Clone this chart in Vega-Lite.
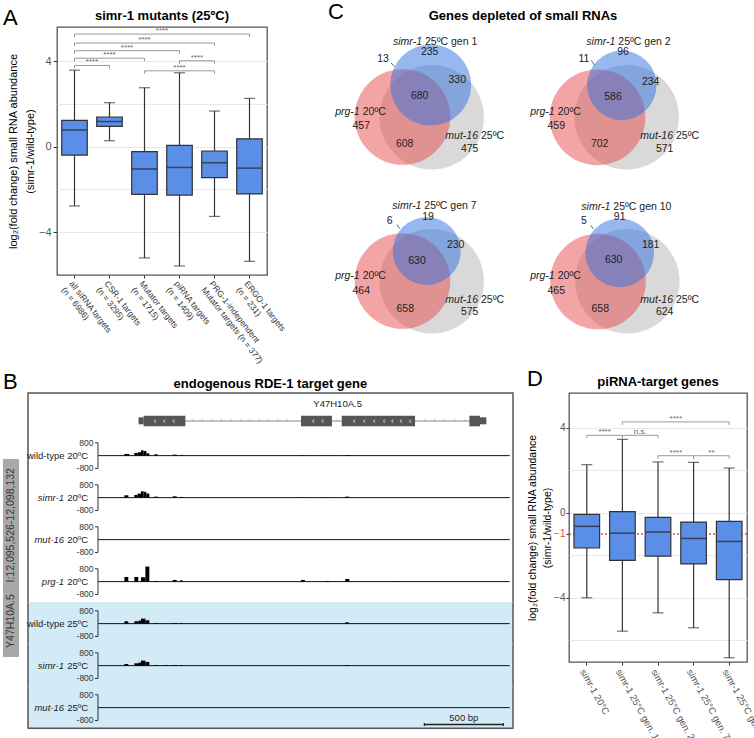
{
"$schema": "https://vega.github.io/schema/vega-lite/v6.json",
"padding": {"left": 3, "top": 1, "right": 0, "bottom": 0},
"background": "white",
"config": {
  "font": "Liberation Sans",
  "view": {"stroke": "#555", "strokeWidth": 1.3},
  "title": {"color": "#000"}
},
"spacing": 3,
"vconcat": [
{"spacing": 40, "hconcat": [
 {"spacing": -12, "hconcat": [
  {"title": {"text": "A", "anchor": "start", "fontSize": 22, "fontWeight": "normal", "offset": -3},
   "width": 1, "height": 1, "view": {"stroke": null},
   "data": {"values": []}, "mark": "point"},
  {"title": {"text": "simr-1 mutants (25ºC)", "fontSize": 13, "fontWeight": "bold", "offset": 4, "anchor": "middle"},
   "width": 210, "height": 248,
   "resolve": {"scale": {"x": "independent"}},
   "layer": [
    {"data": {"values": [
      {"cat": "all siRNA targets|(n = 6986)", "lo": -2.77, "q1": -0.39, "med": 0.78, "q3": 1.23, "hi": 3.58},
      {"cat": "CSR-1 targets|(n = 3295)", "lo": 0.28, "q1": 0.95, "med": 1.18, "q3": 1.39, "hi": 2.06},
      {"cat": "Mutator targets|(n = 1715)", "lo": -5.2, "q1": -2.23, "med": -1.04, "q3": -0.23, "hi": 2.76},
      {"cat": "piRNA targets|(n = 1409)", "lo": -5.58, "q1": -2.26, "med": -0.97, "q3": 0.06, "hi": 3.46},
      {"cat": "PRG-1-independent|Mutator targets (n = 377)", "lo": -3.26, "q1": -1.45, "med": -0.75, "q3": -0.2, "hi": 1.67},
      {"cat": "ERGO-1 targets|(n = 231)", "lo": -5.36, "q1": -2.21, "med": -1.0, "q3": 0.37, "hi": 2.26}
     ]},
     "encoding": {"x": {"field": "cat", "type": "nominal",
        "scale": {"domain": ["all siRNA targets|(n = 6986)", "CSR-1 targets|(n = 3295)", "Mutator targets|(n = 1715)", "piRNA targets|(n = 1409)", "PRG-1-independent|Mutator targets (n = 377)", "ERGO-1 targets|(n = 231)"], "padding": 0},
        "axis": {"title": null, "labelAngle": 52, "labelAlign": "left", "labelBaseline": "top", "labelExpr": "split(datum.label, '|')", "labelFontSize": 8.5, "labelColor": "#333", "labelLineHeight": 10, "tickSize": 3, "tickColor": "#333", "domain": false, "labelPadding": 1, "labelLimit": 200, "grid": false}}},
     "layer": [
      {"mark": {"type": "rule", "color": "#333", "strokeWidth": 1.2},
       "encoding": {"y": {"field": "lo", "type": "quantitative", "scale": {"domain": [-6, 5.6], "nice": false, "zero": false},
          "axis": {"title": ["log₂(fold change) small RNA abundance", "(simr-1/wild-type)"], "values": [4, 2, 0, -2, -4], "labelExpr": "datum.value % 4 == 0 ? datum.label : ''", "tickOpacity": {"condition": {"test": "datum.value % 4 != 0", "value": 0}, "value": 1}, "grid": true, "gridColor": "#e8e8e8", "domain": false, "tickColor": "#333", "tickSize": 4, "labelColor": "#555", "labelFontSize": 11, "titleFontSize": 11, "titleFontWeight": "normal", "titleColor": "#000", "titleLineHeight": 17, "titlePadding": 3, "labelPadding": 2}},
        "y2": {"field": "hi"}}},
      {"mark": {"type": "tick", "color": "#333", "thickness": 1.2, "size": 11}, "encoding": {"y": {"field": "hi", "type": "quantitative"}}},
      {"mark": {"type": "tick", "color": "#333", "thickness": 1.2, "size": 11}, "encoding": {"y": {"field": "lo", "type": "quantitative"}}},
      {"mark": {"type": "bar", "fill": "#5b8ee6", "stroke": "#333", "strokeWidth": 1.2, "width": {"band": 0.73}}, "encoding": {"y": {"field": "q1", "type": "quantitative"}, "y2": {"field": "q3"}}},
      {"mark": {"type": "tick", "color": "#222", "thickness": 1.5, "size": 25}, "encoding": {"y": {"field": "med", "type": "quantitative"}}}
     ]},
    {"data": {"values": [
      {"from": 1, "to": 2, "lev": 3.8, "lab": "****"},
      {"from": 1, "to": 3, "lev": 4.14, "lab": "****"},
      {"from": 1, "to": 4, "lev": 4.49, "lab": "****"},
      {"from": 1, "to": 5, "lev": 4.85, "lab": "****"},
      {"from": 1, "to": 6, "lev": 5.27, "lab": "****"},
      {"from": 3, "to": 5, "lev": 3.55, "lab": "****"},
      {"from": 4, "to": 5, "lev": 4.02, "lab": "****"}
     ]},
     "transform": [{"calculate": "(datum.from + datum.to) / 2", "as": "mid"}],
     "layer": [
      {"mark": {"type": "rule", "color": "#999", "strokeWidth": 1}, "encoding": {"x": {"field": "from", "type": "quantitative", "scale": {"domain": [0.5, 6.5], "nice": false, "zero": false}, "axis": null}, "x2": {"field": "to"}, "y": {"field": "lev", "type": "quantitative"}}},
      {"mark": {"type": "rule", "color": "#999", "strokeWidth": 1, "y2Offset": 3}, "encoding": {"x": {"field": "from", "type": "quantitative"}, "y": {"field": "lev", "type": "quantitative"}, "y2": {"field": "lev"}}},
      {"mark": {"type": "rule", "color": "#999", "strokeWidth": 1, "y2Offset": 3}, "encoding": {"x": {"field": "to", "type": "quantitative"}, "y": {"field": "lev", "type": "quantitative"}, "y2": {"field": "lev"}}},
      {"mark": {"type": "text", "color": "#666", "fontSize": 8, "baseline": "bottom", "dy": 1}, "encoding": {"x": {"field": "mid", "type": "quantitative"}, "y": {"field": "lev", "type": "quantitative"}, "text": {"field": "lab"}}}
     ]}
   ]
  }
 ]},
 {"title": {"text": "C", "anchor": "start", "frame": "bounds", "fontSize": 22, "fontWeight": "normal", "offset": -14},
  "vconcat": [{
   "title": {"text": "Genes depleted of small RNAs", "fontSize": 13, "fontWeight": "bold", "offset": 4, "anchor": "middle"},
   "data": {"values": [
    {"gen": "gen 1", "kind": "circle", "set": "mut", "x": 103.7, "y": 90.3, "total": 2093},
    {"gen": "gen 1", "kind": "circle", "set": "prg", "x": 74.5, "y": 90, "total": 1758},
    {"gen": "gen 1", "kind": "circle", "set": "simr", "x": 102.7, "y": 58, "total": 1258},
    {"gen": "gen 1", "kind": "num", "x": 101.7, "y": 25, "t": "235"},
    {"gen": "gen 1", "kind": "num", "x": 55, "y": 31.7, "t": "13"},
    {"gen": "gen 1", "kind": "num", "x": 129.3, "y": 53.3, "t": "330"},
    {"gen": "gen 1", "kind": "num", "x": 91.7, "y": 69.3, "t": "680"},
    {"gen": "gen 1", "kind": "num", "x": 33.3, "y": 99.3, "t": "457"},
    {"gen": "gen 1", "kind": "num", "x": 76.7, "y": 116.7, "t": "608"},
    {"gen": "gen 1", "kind": "num", "x": 141.7, "y": 121.7, "t": "475"},
    {"gen": "gen 1", "kind": "lab", "x": 94, "y": 15, "it": "simr-1", "rest": "25ºC gen 1"},
    {"gen": "gen 1", "kind": "lab", "x": 31.7, "y": 85, "it": "prg-1", "rest": "20ºC"},
    {"gen": "gen 1", "kind": "lab", "x": 150, "y": 109.3, "it": "mut-16", "rest": "25ºC"},
    {"gen": "gen 1", "kind": "lead", "x": 63, "y": 36, "x2": 66.7, "y2": 39.3},
    {"gen": "gen 2", "kind": "circle", "set": "mut", "x": 103.7, "y": 90.3, "total": 2093},
    {"gen": "gen 2", "kind": "circle", "set": "prg", "x": 74.5, "y": 90.3, "total": 1758},
    {"gen": "gen 2", "kind": "circle", "set": "simr", "x": 98.8, "y": 58.3, "total": 927},
    {"gen": "gen 2", "kind": "num", "x": 100, "y": 25, "t": "96"},
    {"gen": "gen 2", "kind": "num", "x": 61, "y": 31.7, "t": "11"},
    {"gen": "gen 2", "kind": "num", "x": 127.7, "y": 55, "t": "234"},
    {"gen": "gen 2", "kind": "num", "x": 90, "y": 70, "t": "586"},
    {"gen": "gen 2", "kind": "num", "x": 33.3, "y": 99.3, "t": "459"},
    {"gen": "gen 2", "kind": "num", "x": 76.7, "y": 116.7, "t": "702"},
    {"gen": "gen 2", "kind": "num", "x": 141.7, "y": 121.7, "t": "571"},
    {"gen": "gen 2", "kind": "lab", "x": 92.3, "y": 15, "it": "simr-1", "rest": "25ºC gen 2"},
    {"gen": "gen 2", "kind": "lab", "x": 31.7, "y": 85, "it": "prg-1", "rest": "20ºC"},
    {"gen": "gen 2", "kind": "lab", "x": 150, "y": 109.3, "it": "mut-16", "rest": "25ºC"},
    {"gen": "gen 2", "kind": "lead", "x": 68.3, "y": 33.3, "x2": 71.7, "y2": 38.3},
    {"gen": "gen 7", "kind": "circle", "set": "mut", "x": 103.7, "y": 90.3, "total": 2093},
    {"gen": "gen 7", "kind": "circle", "set": "prg", "x": 74.5, "y": 90, "total": 1758},
    {"gen": "gen 7", "kind": "circle", "set": "simr", "x": 98.8, "y": 60, "total": 885},
    {"gen": "gen 7", "kind": "num", "x": 100, "y": 26, "t": "19"},
    {"gen": "gen 7", "kind": "num", "x": 61.7, "y": 30.3, "t": "6"},
    {"gen": "gen 7", "kind": "num", "x": 127.7, "y": 54.3, "t": "230"},
    {"gen": "gen 7", "kind": "num", "x": 89, "y": 70, "t": "630"},
    {"gen": "gen 7", "kind": "num", "x": 33.3, "y": 100.3, "t": "464"},
    {"gen": "gen 7", "kind": "num", "x": 77.3, "y": 117.7, "t": "658"},
    {"gen": "gen 7", "kind": "num", "x": 141.7, "y": 121, "t": "575"},
    {"gen": "gen 7", "kind": "lab", "x": 93.3, "y": 15, "it": "simr-1", "rest": "25ºC gen 7"},
    {"gen": "gen 7", "kind": "lab", "x": 31.7, "y": 85, "it": "prg-1", "rest": "20ºC"},
    {"gen": "gen 7", "kind": "lab", "x": 150, "y": 109.3, "it": "mut-16", "rest": "25ºC"},
    {"gen": "gen 7", "kind": "lead", "x": 69, "y": 33.7, "x2": 71.7, "y2": 37.7},
    {"gen": "gen 10", "kind": "circle", "set": "mut", "x": 104.3, "y": 90.3, "total": 2093},
    {"gen": "gen 10", "kind": "circle", "set": "prg", "x": 75, "y": 90.5, "total": 1758},
    {"gen": "gen 10", "kind": "circle", "set": "simr", "x": 96.7, "y": 61.8, "total": 907},
    {"gen": "gen 10", "kind": "num", "x": 96.7, "y": 26, "t": "91"},
    {"gen": "gen 10", "kind": "num", "x": 61, "y": 30.3, "t": "5"},
    {"gen": "gen 10", "kind": "num", "x": 127.7, "y": 54.3, "t": "181"},
    {"gen": "gen 10", "kind": "num", "x": 90.7, "y": 69.3, "t": "630"},
    {"gen": "gen 10", "kind": "num", "x": 33.3, "y": 100.3, "t": "465"},
    {"gen": "gen 10", "kind": "num", "x": 77.3, "y": 117.7, "t": "658"},
    {"gen": "gen 10", "kind": "num", "x": 141.7, "y": 121, "t": "624"},
    {"gen": "gen 10", "kind": "lab", "x": 87.3, "y": 16, "it": "simr-1", "rest": "25ºC gen 10"},
    {"gen": "gen 10", "kind": "lab", "x": 31.7, "y": 85, "it": "prg-1", "rest": "20ºC"},
    {"gen": "gen 10", "kind": "lab", "x": 150, "y": 109, "it": "mut-16", "rest": "25ºC"},
    {"gen": "gen 10", "kind": "lead", "x": 67.7, "y": 34.3, "x2": 70.3, "y2": 37.7}
   ]},
   "transform": [
    {"calculate": "datum.gen == 'gen 1' || datum.gen == 'gen 2' ? 'top' : 'bottom'", "as": "prow"},
    {"calculate": "datum.gen == 'gen 1' || datum.gen == 'gen 7' ? 'left' : 'right'", "as": "pcol"}
   ],
   "facet": {
    "row": {"field": "prow", "type": "nominal", "sort": ["top", "bottom"], "header": {"labels": false, "title": null}},
    "column": {"field": "pcol", "type": "nominal", "sort": ["left", "right"], "header": {"labels": false, "title": null}}
   },
   "spacing": 0,
   "bounds": "flush",
   "spec": {
    "width": 195, "height": 164,
    "view": {"stroke": null},
    "layer": [
     {"transform": [{"filter": "datum.kind == 'circle'"}],
      "mark": {"type": "point", "filled": true, "shape": "circle", "opacity": 0.5, "strokeWidth": 0},
      "encoding": {
       "x": {"field": "x", "type": "quantitative", "scale": {"domain": [0, 195], "nice": false, "zero": false}, "axis": null},
       "y": {"field": "y", "type": "quantitative", "scale": {"domain": [0, 164], "nice": false, "zero": false, "reverse": true}, "axis": null},
       "size": {"field": "total", "type": "quantitative", "scale": {"domain": [0, 2093], "range": [0, 10907]}, "legend": null},
       "color": {"field": "set", "type": "nominal", "scale": {"domain": ["mut", "prg", "simr"], "range": ["#b4b4b4", "#e84c4c", "#2f6fe0"]}, "legend": null}}},
     {"transform": [{"filter": "datum.kind == 'lead'"}],
      "mark": {"type": "rule", "color": "#333", "strokeWidth": 0.8},
      "encoding": {"x": {"field": "x", "type": "quantitative"}, "y": {"field": "y", "type": "quantitative"}, "x2": {"field": "x2"}, "y2": {"field": "y2"}}},
     {"transform": [{"filter": "datum.kind == 'num'"}],
      "mark": {"type": "text", "fontSize": 10.5, "color": "#222", "baseline": "middle"},
      "encoding": {"x": {"field": "x", "type": "quantitative"}, "y": {"field": "y", "type": "quantitative"}, "text": {"field": "t"}}},
     {"transform": [{"filter": "datum.kind == 'lab'"}],
      "mark": {"type": "text", "fontSize": 10.5, "color": "#222", "baseline": "middle", "align": "right", "fontStyle": "italic"},
      "encoding": {"x": {"field": "x", "type": "quantitative"}, "y": {"field": "y", "type": "quantitative"}, "text": {"field": "it"}}},
     {"transform": [{"filter": "datum.kind == 'lab'"}],
      "mark": {"type": "text", "fontSize": 10.5, "color": "#222", "baseline": "middle", "align": "left", "dx": 3},
      "encoding": {"x": {"field": "x", "type": "quantitative"}, "y": {"field": "y", "type": "quantitative"}, "text": {"field": "rest"}}}
    ]
   }
  }]
 }
]},
{"spacing": 12, "hconcat": [
 {"title": {"text": "B", "anchor": "start", "frame": "bounds", "fontSize": 22, "fontWeight": "normal", "offset": -16},
  "spacing": 8,
  "hconcat": [
   {"width": 16, "height": 330, "view": {"stroke": null},
    "data": {"values": [{"lab": "Y47H10A.5\u00a0\u00a0\u00a0\u00a0I:12,095,526-12,098,132"}]},
    "layer": [
     {"mark": {"type": "rect", "color": "#a9a9a9"},
      "encoding": {"x": {"datum": 0, "type": "quantitative", "scale": {"domain": [0, 1], "nice": false}, "axis": null}, "x2": {"datum": 1},
                   "y": {"datum": 66, "type": "quantitative", "scale": {"domain": [0, 330], "nice": false, "reverse": true}, "axis": null}, "y2": {"datum": 264}}},
     {"mark": {"type": "text", "angle": 270, "fontSize": 10.5, "color": "#333", "baseline": "middle"},
      "encoding": {"x": {"datum": 0.5, "type": "quantitative"}, "y": {"datum": 165, "type": "quantitative"}, "text": {"field": "lab"}}}
    ]},
   {"title": {"text": "endogenous RDE-1 target gene", "fontSize": 13, "fontWeight": "bold", "offset": 1, "anchor": "middle"},
    "data": {"values": [
     {"track": "gene", "kind": "cell"},
     {"track": "wt20", "kind": "cell", "bg": false, "nit": "", "nreg": "wild-type 20ºC"},
     {"track": "simr20", "kind": "cell", "bg": false, "nit": "simr-1", "nreg": "20ºC"},
     {"track": "mut20", "kind": "cell", "bg": false, "nit": "mut-16", "nreg": "20ºC"},
     {"track": "prg20", "kind": "cell", "bg": false, "nit": "prg-1", "nreg": "20ºC"},
     {"track": "wt25", "kind": "cell", "bg": true, "nit": "", "nreg": "wild-type 25ºC"},
     {"track": "simr25", "kind": "cell", "bg": true, "nit": "simr-1", "nreg": "25ºC"},
     {"track": "mut25", "kind": "cell", "bg": true, "nit": "mut-16", "nreg": "25ºC"},
     {"track": "gene", "kind": "gline", "start": 12095783, "end": 12097984},
     {"track": "gene", "kind": "utr", "start": 12095783, "end": 12095815},
     {"track": "gene", "kind": "utr", "start": 12097944, "end": 12097984},
     {"track": "gene", "kind": "exon", "start": 12095815, "end": 12096079},
     {"track": "gene", "kind": "exon", "start": 12096811, "end": 12097007},
     {"track": "gene", "kind": "exon", "start": 12097069, "end": 12097533},
     {"track": "gene", "kind": "exon", "start": 12097877, "end": 12097944},
     {"track": "gene", "kind": "chev", "pos": 12095887},
     {"track": "gene", "kind": "chev", "pos": 12095946},
     {"track": "gene", "kind": "chev", "pos": 12096005},
     {"track": "gene", "kind": "chev", "pos": 12096889},
     {"track": "gene", "kind": "chev", "pos": 12096948},
     {"track": "gene", "kind": "chev", "pos": 12097148},
     {"track": "gene", "kind": "chev", "pos": 12097212},
     {"track": "gene", "kind": "chev", "pos": 12097275},
     {"track": "gene", "kind": "chev", "pos": 12097338},
     {"track": "gene", "kind": "chev", "pos": 12097391},
     {"track": "gene", "kind": "chev", "pos": 12097444},
     {"track": "gene", "kind": "chev", "pos": 12097503},
     {"track": "gene", "kind": "ichev", "pos": 12096125},
     {"track": "gene", "kind": "ichev", "pos": 12096184},
     {"track": "gene", "kind": "ichev", "pos": 12096246},
     {"track": "gene", "kind": "ichev", "pos": 12096305},
     {"track": "gene", "kind": "ichev", "pos": 12096368},
     {"track": "gene", "kind": "ichev", "pos": 12096427},
     {"track": "gene", "kind": "ichev", "pos": 12096486},
     {"track": "gene", "kind": "ichev", "pos": 12096545},
     {"track": "gene", "kind": "ichev", "pos": 12096604},
     {"track": "gene", "kind": "ichev", "pos": 12096663},
     {"track": "gene", "kind": "ichev", "pos": 12096722},
     {"track": "gene", "kind": "ichev", "pos": 12097039},
     {"track": "gene", "kind": "ichev", "pos": 12097592},
     {"track": "gene", "kind": "ichev", "pos": 12097655},
     {"track": "gene", "kind": "ichev", "pos": 12097718},
     {"track": "gene", "kind": "ichev", "pos": 12097782},
     {"track": "gene", "kind": "ichev", "pos": 12097845},
     {"track": "gene", "kind": "glabel", "pos": 12097043, "t": "Y47H10A.5"},
     {"track": "mut25", "kind": "sbar", "start": 12097592, "end": 12098092, "t": "500 bp"},
     {"track": "wt20", "kind": "peak", "start": 12095693, "end": 12095724, "value": 104},
     {"track": "wt20", "kind": "peak", "start": 12095756, "end": 12095777, "value": 166},
     {"track": "wt20", "kind": "peak", "start": 12095777, "end": 12095798, "value": 208},
     {"track": "wt20", "kind": "peak", "start": 12095798, "end": 12095815, "value": 330},
     {"track": "wt20", "kind": "peak", "start": 12095815, "end": 12095832, "value": 290},
     {"track": "wt20", "kind": "peak", "start": 12095832, "end": 12095851, "value": 146},
     {"track": "wt20", "kind": "peak", "start": 12095883, "end": 12095904, "value": 83},
     {"track": "wt20", "kind": "peak", "start": 12095999, "end": 12096024, "value": 62},
     {"track": "wt20", "kind": "peak", "start": 12096045, "end": 12096066, "value": 42},
     {"track": "wt20", "kind": "peak", "start": 12096811, "end": 12096836, "value": 20},
     {"track": "wt20", "kind": "peak", "start": 12096969, "end": 12096990, "value": 20},
     {"track": "wt20", "kind": "peak", "start": 12097091, "end": 12097117, "value": 40},
     {"track": "simr20", "kind": "peak", "start": 12095693, "end": 12095718, "value": 146},
     {"track": "simr20", "kind": "peak", "start": 12095756, "end": 12095777, "value": 166},
     {"track": "simr20", "kind": "peak", "start": 12095777, "end": 12095798, "value": 250},
     {"track": "simr20", "kind": "peak", "start": 12095798, "end": 12095815, "value": 395},
     {"track": "simr20", "kind": "peak", "start": 12095815, "end": 12095832, "value": 360},
     {"track": "simr20", "kind": "peak", "start": 12095832, "end": 12095851, "value": 250},
     {"track": "simr20", "kind": "peak", "start": 12095883, "end": 12095904, "value": 62},
     {"track": "simr20", "kind": "peak", "start": 12095999, "end": 12096024, "value": 83},
     {"track": "simr20", "kind": "peak", "start": 12096045, "end": 12096066, "value": 42},
     {"track": "simr20", "kind": "peak", "start": 12096811, "end": 12096836, "value": 20},
     {"track": "simr20", "kind": "peak", "start": 12096969, "end": 12096990, "value": 20},
     {"track": "simr20", "kind": "peak", "start": 12097091, "end": 12097117, "value": 62},
     {"track": "prg20", "kind": "peak", "start": 12095693, "end": 12095718, "value": 291},
     {"track": "prg20", "kind": "peak", "start": 12095756, "end": 12095781, "value": 291},
     {"track": "prg20", "kind": "peak", "start": 12095798, "end": 12095826, "value": 270},
     {"track": "prg20", "kind": "peak", "start": 12095826, "end": 12095851, "value": 936},
     {"track": "prg20", "kind": "peak", "start": 12095883, "end": 12095904, "value": 42},
     {"track": "prg20", "kind": "peak", "start": 12095999, "end": 12096024, "value": 104},
     {"track": "prg20", "kind": "peak", "start": 12096045, "end": 12096062, "value": 83},
     {"track": "prg20", "kind": "peak", "start": 12096811, "end": 12096836, "value": 104},
     {"track": "prg20", "kind": "peak", "start": 12096969, "end": 12096990, "value": 42},
     {"track": "prg20", "kind": "peak", "start": 12097091, "end": 12097117, "value": 166},
     {"track": "prg20", "kind": "peak", "start": 12097391, "end": 12097408, "value": 20},
     {"track": "wt25", "kind": "peak", "start": 12095693, "end": 12095718, "value": 146},
     {"track": "wt25", "kind": "peak", "start": 12095756, "end": 12095781, "value": 146},
     {"track": "wt25", "kind": "peak", "start": 12095781, "end": 12095798, "value": 187},
     {"track": "wt25", "kind": "peak", "start": 12095798, "end": 12095826, "value": 312},
     {"track": "wt25", "kind": "peak", "start": 12095826, "end": 12095851, "value": 208},
     {"track": "wt25", "kind": "peak", "start": 12095883, "end": 12095904, "value": 42},
     {"track": "wt25", "kind": "peak", "start": 12095999, "end": 12096024, "value": 42},
     {"track": "wt25", "kind": "peak", "start": 12096045, "end": 12096062, "value": 42},
     {"track": "wt25", "kind": "peak", "start": 12097091, "end": 12097113, "value": 83},
     {"track": "simr25", "kind": "peak", "start": 12095693, "end": 12095718, "value": 104},
     {"track": "simr25", "kind": "peak", "start": 12095756, "end": 12095781, "value": 146},
     {"track": "simr25", "kind": "peak", "start": 12095781, "end": 12095798, "value": 187},
     {"track": "simr25", "kind": "peak", "start": 12095798, "end": 12095826, "value": 312},
     {"track": "simr25", "kind": "peak", "start": 12095826, "end": 12095851, "value": 229},
     {"track": "simr25", "kind": "peak", "start": 12095883, "end": 12095904, "value": 42},
     {"track": "simr25", "kind": "peak", "start": 12095946, "end": 12095967, "value": 42},
     {"track": "simr25", "kind": "peak", "start": 12095999, "end": 12096024, "value": 42},
     {"track": "simr25", "kind": "peak", "start": 12096045, "end": 12096062, "value": 42},
     {"track": "simr25", "kind": "peak", "start": 12096811, "end": 12096836, "value": 15},
     {"track": "simr25", "kind": "peak", "start": 12096969, "end": 12096990, "value": 15},
     {"track": "simr25", "kind": "peak", "start": 12097091, "end": 12097113, "value": 42}
    ]},
    "facet": {"row": {"field": "track", "type": "nominal", "sort": ["gene", "wt20", "simr20", "mut20", "prg20", "wt25", "simr25", "mut25"], "header": {"labels": false, "title": null, "labelPadding": 0, "titlePadding": 0}}},
    "spacing": 0,
    "bounds": "flush",
    "spec": {
     "width": 485, "height": 41.25,
     "view": {"stroke": null},
     "layer": [
      {"transform": [{"filter": "datum.kind == 'cell' && datum.bg"}],
       "mark": {"type": "rect", "color": "#d3ebf7"},
       "encoding": {"x": {"datum": 12095083, "type": "quantitative", "scale": {"domain": [12095083, 12098153], "nice": false, "zero": false}, "axis": null}, "x2": {"datum": 12098153},
                    "y": {"datum": -1340, "type": "quantitative", "scale": {"domain": [-1284, 1284], "nice": false, "zero": false}, "axis": null}, "y2": {"datum": 1340}}},
      {"transform": [{"filter": "datum.kind == 'cell'"}],
       "mark": {"type": "rule", "color": "#555", "strokeWidth": 1.5},
       "encoding": {"x": {"datum": 12095083, "type": "quantitative"}, "y": {"datum": -1320, "type": "quantitative"}, "y2": {"datum": 1320}}},
      {"transform": [{"filter": "datum.kind == 'cell'"}],
       "mark": {"type": "rule", "color": "#555", "strokeWidth": 1.5},
       "encoding": {"x": {"datum": 12098153, "type": "quantitative"}, "y": {"datum": -1320, "type": "quantitative"}, "y2": {"datum": 1320}}},
      {"transform": [{"filter": "datum.kind == 'cell' && datum.track == 'gene'"}],
       "mark": {"type": "rule", "color": "#555", "strokeWidth": 1.5},
       "encoding": {"x": {"datum": 12095083, "type": "quantitative"}, "x2": {"datum": 12098153}, "y": {"datum": 1284, "type": "quantitative"}}},
      {"transform": [{"filter": "datum.kind == 'cell' && datum.track == 'mut25'"}],
       "mark": {"type": "rule", "color": "#555", "strokeWidth": 1.5},
       "encoding": {"x": {"datum": 12095083, "type": "quantitative"}, "x2": {"datum": 12098153}, "y": {"datum": -1284, "type": "quantitative"}}},
      {"transform": [{"filter": "datum.kind == 'cell' && datum.track != 'gene'"}],
       "mark": {"type": "rule", "color": "#111", "strokeWidth": 1},
       "encoding": {"x": {"datum": 12095526, "type": "quantitative"}, "x2": {"datum": 12098132}, "y": {"datum": 0, "type": "quantitative"}}},
      {"transform": [{"filter": "datum.kind == 'cell' && datum.track != 'gene'"}],
       "mark": {"type": "rule", "color": "#333", "strokeWidth": 1},
       "encoding": {"x": {"datum": 12095526, "type": "quantitative"}, "y": {"datum": -800, "type": "quantitative"}, "y2": {"datum": 800}}},
      {"transform": [{"filter": "datum.kind == 'cell' && datum.track != 'gene'"}],
       "mark": {"type": "rule", "color": "#333", "strokeWidth": 1},
       "encoding": {"x": {"datum": 12095507, "type": "quantitative"}, "x2": {"datum": 12095526}, "y": {"datum": 800, "type": "quantitative"}}},
      {"transform": [{"filter": "datum.kind == 'cell' && datum.track != 'gene'"}],
       "mark": {"type": "rule", "color": "#333", "strokeWidth": 1},
       "encoding": {"x": {"datum": 12095507, "type": "quantitative"}, "x2": {"datum": 12095526}, "y": {"datum": -800, "type": "quantitative"}}},
      {"transform": [{"filter": "datum.kind == 'cell' && datum.track != 'gene'"}],
       "mark": {"type": "text", "fontSize": 8.5, "color": "#333", "align": "right", "baseline": "middle"},
       "encoding": {"x": {"datum": 12095498, "type": "quantitative"}, "y": {"datum": 800, "type": "quantitative"}, "text": {"value": "800"}}},
      {"transform": [{"filter": "datum.kind == 'cell' && datum.track != 'gene'"}],
       "mark": {"type": "text", "fontSize": 8.5, "color": "#333", "align": "right", "baseline": "middle"},
       "encoding": {"x": {"datum": 12095498, "type": "quantitative"}, "y": {"datum": -800, "type": "quantitative"}, "text": {"value": "-800"}}},
      {"transform": [{"filter": "datum.kind == 'cell' && datum.track != 'gene'"}],
       "mark": {"type": "text", "fontSize": 9.5, "color": "#222", "align": "right", "baseline": "middle"},
       "encoding": {"x": {"datum": 12095463, "type": "quantitative"}, "y": {"datum": 0, "type": "quantitative"}, "text": {"field": "nreg"}}},
      {"transform": [{"filter": "datum.kind == 'cell' && datum.nit != '' && datum.track != 'gene'"}],
       "mark": {"type": "text", "fontSize": 9.5, "color": "#222", "align": "right", "baseline": "middle", "fontStyle": "italic", "dx": -24},
       "encoding": {"x": {"datum": 12095463, "type": "quantitative"}, "y": {"datum": 0, "type": "quantitative"}, "text": {"field": "nit"}}},
      {"transform": [{"filter": "datum.kind == 'peak'"}],
       "mark": {"type": "rect", "color": "#000"},
       "encoding": {"x": {"field": "start", "type": "quantitative"}, "x2": {"field": "end"}, "y": {"field": "value", "type": "quantitative"}, "y2": {"datum": 0}}},
      {"transform": [{"filter": "datum.kind == 'gline'"}],
       "mark": {"type": "rule", "color": "#888", "strokeWidth": 1},
       "encoding": {"x": {"field": "start", "type": "quantitative"}, "x2": {"field": "end"}, "y": {"datum": -460, "type": "quantitative"}}},
      {"transform": [{"filter": "datum.kind == 'utr'"}],
       "mark": {"type": "rect", "color": "#555"},
       "encoding": {"x": {"field": "start", "type": "quantitative"}, "x2": {"field": "end"}, "y": {"datum": -666, "type": "quantitative"}, "y2": {"datum": -230}}},
      {"transform": [{"filter": "datum.kind == 'exon'"}],
       "mark": {"type": "rect", "color": "#555"},
       "encoding": {"x": {"field": "start", "type": "quantitative"}, "x2": {"field": "end"}, "y": {"datum": -790, "type": "quantitative"}, "y2": {"datum": -131}}},
      {"transform": [{"filter": "datum.kind == 'chev'"}],
       "mark": {"type": "text", "color": "#e0e0e0", "fontSize": 9, "baseline": "middle"},
       "encoding": {"x": {"field": "pos", "type": "quantitative"}, "y": {"datum": -460, "type": "quantitative"}, "text": {"value": "‹"}}},
      {"transform": [{"filter": "datum.kind == 'ichev'"}],
       "mark": {"type": "text", "color": "#aaa", "fontSize": 7, "baseline": "middle"},
       "encoding": {"x": {"field": "pos", "type": "quantitative"}, "y": {"datum": -460, "type": "quantitative"}, "text": {"value": "‹"}}},
      {"transform": [{"filter": "datum.kind == 'glabel'"}],
       "mark": {"type": "text", "color": "#222", "fontSize": 9.5, "baseline": "middle"},
       "encoding": {"x": {"field": "pos", "type": "quantitative"}, "y": {"datum": 598, "type": "quantitative"}, "text": {"field": "t"}}},
      {"transform": [{"filter": "datum.kind == 'sbar'"}],
       "mark": {"type": "rule", "color": "#222", "strokeWidth": 1.5},
       "encoding": {"x": {"field": "start", "type": "quantitative"}, "x2": {"field": "end"}, "y": {"datum": -1052, "type": "quantitative"}}},
      {"transform": [{"filter": "datum.kind == 'sbar'"}],
       "mark": {"type": "rule", "color": "#222", "strokeWidth": 1.2},
       "encoding": {"x": {"field": "start", "type": "quantitative"}, "y": {"datum": -1150, "type": "quantitative"}, "y2": {"datum": -954}}},
      {"transform": [{"filter": "datum.kind == 'sbar'"}],
       "mark": {"type": "rule", "color": "#222", "strokeWidth": 1.2},
       "encoding": {"x": {"field": "end", "type": "quantitative"}, "y": {"datum": -1150, "type": "quantitative"}, "y2": {"datum": -954}}},
      {"transform": [{"filter": "datum.kind == 'sbar'"}, {"calculate": "(datum.start + datum.end) / 2", "as": "mid"}],
       "mark": {"type": "text", "color": "#222", "fontSize": 9.5, "baseline": "middle"},
       "encoding": {"x": {"field": "mid", "type": "quantitative"}, "y": {"datum": -618, "type": "quantitative"}, "text": {"field": "t"}}}
     ]
    }
   }
  ]
 },
 {"title": {"text": "D", "anchor": "start", "frame": "bounds", "fontSize": 22, "fontWeight": "normal", "offset": -16},
  "vconcat": [{
   "title": {"text": "piRNA-target genes", "fontSize": 13, "fontWeight": "bold", "offset": 4, "anchor": "middle"},
   "width": 178, "height": 269,
   "resolve": {"scale": {"x": "independent"}},
   "layer": [
    {"data": {"values": [{"ref": -1}]},
     "mark": {"type": "rule", "color": "#ee4444", "strokeDash": [2, 2], "strokeWidth": 1.3},
     "encoding": {"y": {"field": "ref", "type": "quantitative", "scale": {"domain": [-7.02, 5.63], "nice": false, "zero": false},
        "axis": {"title": ["log₂(fold change) small RNA abundance", "(simr-1/wild-type)"], "values": [4, 2, 0, -1, -2, -4, -6], "labelExpr": "indexof([4, 0, -1, -4], datum.value) >= 0 ? datum.label : ''", "tickOpacity": {"condition": {"test": "indexof([4, 0, -1, -4], datum.value) < 0", "value": 0}, "value": 1}, "gridOpacity": {"condition": {"test": "datum.value == -1", "value": 0}, "value": 1}, "labelColor": {"condition": {"test": "datum.value == -1", "value": "#ee4444"}, "value": "#555"}, "grid": true, "gridColor": "#e8e8e8", "domain": false, "tickColor": "#333", "tickSize": 3, "labelFontSize": 10, "titleFontSize": 10.5, "titleFontWeight": "normal", "titleColor": "#000", "titleLineHeight": 15, "titlePadding": 1, "labelPadding": 1}}}},
    {"data": {"values": [
      {"cat": "simr-1 20°C", "lo": -4.0, "q1": -1.66, "med": -0.64, "q3": -0.08, "hi": 2.26},
      {"cat": "simr-1 25°C gen. 1", "lo": -5.57, "q1": -2.24, "med": -0.96, "q3": 0.05, "hi": 3.45},
      {"cat": "simr-1 25°C gen. 2", "lo": -4.71, "q1": -2.04, "med": -0.91, "q3": -0.22, "hi": 2.39},
      {"cat": "simr-1 25°C gen. 7", "lo": -5.41, "q1": -2.41, "med": -1.21, "q3": -0.44, "hi": 2.37},
      {"cat": "simr-1 25°C gen. 10", "lo": -6.82, "q1": -3.15, "med": -1.35, "q3": -0.41, "hi": 2.1}
     ]},
     "encoding": {"x": {"field": "cat", "type": "nominal",
        "scale": {"domain": ["simr-1 20°C", "simr-1 25°C gen. 1", "simr-1 25°C gen. 2", "simr-1 25°C gen. 7", "simr-1 25°C gen. 10"], "padding": 0},
        "axis": {"title": null, "labelAngle": 61, "labelAlign": "left", "labelBaseline": "top", "labelFontSize": 9.5, "labelColor": "#555", "tickSize": 3, "tickColor": "#333", "domain": false, "labelPadding": 2, "labelLimit": 200, "grid": false}}},
     "layer": [
      {"mark": {"type": "rule", "color": "#333", "strokeWidth": 1.2}, "encoding": {"y": {"field": "lo", "type": "quantitative"}, "y2": {"field": "hi"}}},
      {"mark": {"type": "tick", "color": "#333", "thickness": 1.2, "size": 11}, "encoding": {"y": {"field": "hi", "type": "quantitative"}}},
      {"mark": {"type": "tick", "color": "#333", "thickness": 1.2, "size": 11}, "encoding": {"y": {"field": "lo", "type": "quantitative"}}},
      {"mark": {"type": "bar", "fill": "#5b8ee6", "stroke": "#333", "strokeWidth": 1.2, "width": {"band": 0.72}}, "encoding": {"y": {"field": "q1", "type": "quantitative"}, "y2": {"field": "q3"}}},
      {"mark": {"type": "tick", "color": "#222", "thickness": 1.5, "size": 25}, "encoding": {"y": {"field": "med", "type": "quantitative"}}}
     ]},
    {"data": {"values": [
      {"from": 1, "to": 2, "lev": 3.64, "lab": "****"},
      {"from": 2, "to": 3, "lev": 3.64, "lab": "n.s."},
      {"from": 2, "to": 5, "lev": 4.27, "lab": "****"},
      {"from": 3, "to": 4, "lev": 2.68, "lab": "****"},
      {"from": 4, "to": 5, "lev": 2.68, "lab": "**"}
     ]},
     "transform": [{"calculate": "(datum.from + datum.to) / 2", "as": "mid"}],
     "layer": [
      {"mark": {"type": "rule", "color": "#999", "strokeWidth": 1}, "encoding": {"x": {"field": "from", "type": "quantitative", "scale": {"domain": [0.5, 5.5], "nice": false, "zero": false}, "axis": null}, "x2": {"field": "to"}, "y": {"field": "lev", "type": "quantitative"}}},
      {"mark": {"type": "rule", "color": "#999", "strokeWidth": 1, "y2Offset": 3}, "encoding": {"x": {"field": "from", "type": "quantitative"}, "y": {"field": "lev", "type": "quantitative"}, "y2": {"field": "lev"}}},
      {"mark": {"type": "rule", "color": "#999", "strokeWidth": 1, "y2Offset": 3}, "encoding": {"x": {"field": "to", "type": "quantitative"}, "y": {"field": "lev", "type": "quantitative"}, "y2": {"field": "lev"}}},
      {"mark": {"type": "text", "color": "#666", "fontSize": 8, "baseline": "bottom", "dy": 1}, "encoding": {"x": {"field": "mid", "type": "quantitative"}, "y": {"field": "lev", "type": "quantitative"}, "text": {"field": "lab"}}}
     ]}
   ]
  }]
 }
]}
]
}
